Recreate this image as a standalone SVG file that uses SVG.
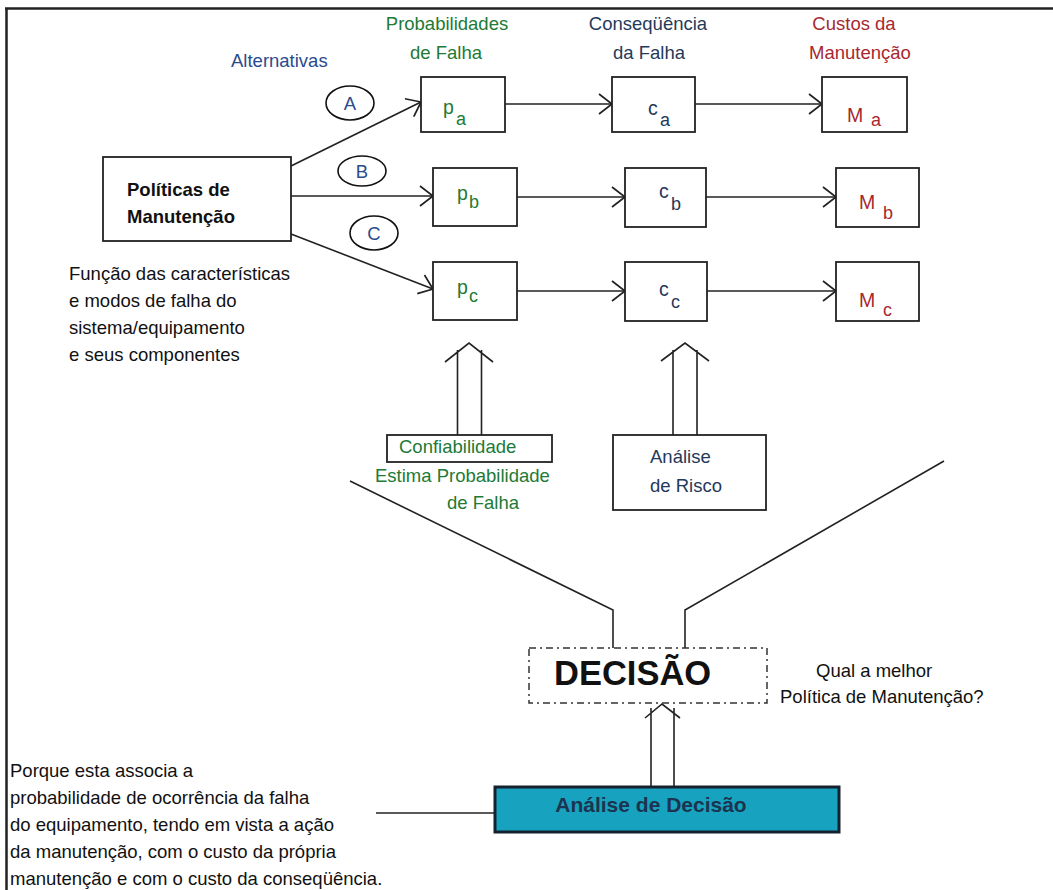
<svg xmlns="http://www.w3.org/2000/svg" width="1053" height="890" viewBox="0 0 1053 890">
<defs>
<style>
text{font-family:"Liberation Sans",Arial,sans-serif;font-size:18.5px}
.box{fill:#fff;stroke:#222;stroke-width:1.8}
.ln{stroke:#222;stroke-width:1.6;fill:none}
.blue{fill:#2a4b8d}
.green{fill:#217a35}
.navy{fill:#25395a}
.red{fill:#a8282e}
.blk{fill:#111}
.sym{font-size:19.5px}
.sub{font-size:18px}
.bold{font-weight:bold}
</style>
<marker id="arr" viewBox="-15 -12 17 24" refX="0" refY="0" markerUnits="userSpaceOnUse" markerWidth="17" markerHeight="24" orient="auto">
<path d="M-13,-10 L0,0 L-13,10" fill="none" stroke="#222" stroke-width="1.7"/>
</marker>
</defs>
<rect width="1053" height="890" fill="#fff"/>
<g id="frame">
<line x1="5" y1="8.5" x2="1053" y2="8.5" stroke="#222" stroke-width="2.5"/>
<line x1="6.5" y1="8" x2="6.5" y2="890" stroke="#222" stroke-width="2.5"/>
</g>
<g id="headers">
<text x="231" y="67" class="blue">Alternativas</text>
<text x="447" y="30" class="green" text-anchor="middle">Probabilidades</text>
<text x="446" y="59" class="green" text-anchor="middle">de Falha</text>
<text x="648" y="30" class="navy" text-anchor="middle">Conseqüência</text>
<text x="649" y="59" class="navy" text-anchor="middle">da Falha</text>
<text x="854" y="30" class="red" text-anchor="middle">Custos da</text>
<text x="860" y="59" class="red" text-anchor="middle">Manutenção</text>
</g>
<g id="connectors">
<line class="ln" x1="291" y1="166" x2="421" y2="102" marker-end="url(#arr)"/>
<line class="ln" x1="291" y1="196" x2="433" y2="196" marker-end="url(#arr)"/>
<line class="ln" x1="291" y1="234" x2="433" y2="289" marker-end="url(#arr)"/>
<line class="ln" x1="505" y1="104" x2="612" y2="104" marker-end="url(#arr)"/>
<line class="ln" x1="695" y1="104" x2="822" y2="104" marker-end="url(#arr)"/>
<line class="ln" x1="517" y1="197" x2="625" y2="197" marker-end="url(#arr)"/>
<line class="ln" x1="706" y1="197" x2="836" y2="197" marker-end="url(#arr)"/>
<line class="ln" x1="517" y1="291" x2="625" y2="291" marker-end="url(#arr)"/>
<line class="ln" x1="707" y1="291" x2="836" y2="291" marker-end="url(#arr)"/>
<path class="ln" d="M457.5,435 V350 M481.5,435 V350 M445,362 L469,343 L493,362"/>
<path class="ln" d="M673,435 V350 M697,435 V350 M661,361 L685,343 L709,361"/>
<path class="ln" d="M651,786 V708 M674,786 V708 M645,718 L662,704 L680,718"/>
<path class="ln" d="M350,481 L613,610 V648"/>
<path class="ln" d="M944,461 L685,610 V648"/>
<line class="ln" x1="376" y1="813" x2="495" y2="813"/>
</g>
<g id="alt-A">
<ellipse cx="350" cy="103" rx="24" ry="17" fill="none" stroke="#111" stroke-width="1.6"/>
<text x="350" y="110" class="blue" text-anchor="middle">A</text>
</g>
<g id="alt-B">
<ellipse cx="362" cy="171" rx="24" ry="15" fill="none" stroke="#111" stroke-width="1.6"/>
<text x="362" y="178" class="blue" text-anchor="middle">B</text>
</g>
<g id="alt-C">
<ellipse cx="374" cy="233" rx="24" ry="17" fill="none" stroke="#111" stroke-width="1.6"/>
<text x="374" y="240" class="blue" text-anchor="middle">C</text>
</g>
<g id="politicas">
<rect class="box" x="103" y="157" width="188" height="84"/>
<text x="127" y="196" class="blk bold">Políticas de</text>
<text x="127" y="223" class="blk bold">Manutenção</text>
</g>
<g id="funcao-note">
<text x="69" y="280" class="blk">Função das características</text>
<text x="69" y="307" class="blk">e modos de falha do</text>
<text x="69" y="334" class="blk">sistema/equipamento</text>
<text x="69" y="361" class="blk">e seus componentes</text>
</g>
<g id="pa">
<rect class="box" x="421" y="77" width="84" height="55"/>
<text x="443" y="114" class="green sym">p</text><text x="456" y="125" class="green sub">a</text>
</g>
<g id="ca">
<rect class="box" x="612" y="77" width="83" height="55"/>
<text x="648" y="115" class="navy sym">c</text><text x="660" y="126" class="navy sub">a</text>
</g>
<g id="Ma">
<rect class="box" x="822" y="77" width="85" height="55"/>
<text x="847" y="122" class="red sym">M</text><text x="871" y="126" class="red sub">a</text>
</g>
<g id="pb">
<rect class="box" x="433" y="168" width="84" height="58"/>
<text x="457" y="200" class="green sym">p</text><text x="469" y="208" class="green sub">b</text>
</g>
<g id="cb">
<rect class="box" x="625" y="168" width="81" height="59"/>
<text x="659" y="198" class="navy sym">c</text><text x="671" y="210" class="navy sub">b</text>
</g>
<g id="Mb">
<rect class="box" x="836" y="168" width="83" height="59"/>
<text x="859" y="209" class="red sym">M</text><text x="883" y="219" class="red sub">b</text>
</g>
<g id="pc">
<rect class="box" x="433" y="262" width="84" height="58"/>
<text x="457" y="294" class="green sym">p</text><text x="469" y="302" class="green sub">c</text>
</g>
<g id="cc">
<rect class="box" x="625" y="262" width="82" height="59"/>
<text x="659" y="296" class="navy sym">c</text><text x="671" y="308" class="navy sub">c</text>
</g>
<g id="Mc">
<rect class="box" x="836" y="262" width="83" height="59"/>
<text x="859" y="307" class="red sym">M</text><text x="883" y="316" class="red sub">c</text>
</g>
<g id="confiabilidade">
<rect class="box" x="387" y="435" width="165" height="27"/>
<text x="399" y="453" class="green">Confiabilidade</text>
<text x="375" y="482" class="green">Estima Probabilidade</text>
<text x="447" y="509" class="green">de Falha</text>
</g>
<g id="analise-risco">
<rect class="box" x="613" y="435" width="153" height="75"/>
<text x="650" y="463" class="navy">Análise</text>
<text x="650" y="492" class="navy">de Risco</text>
</g>
<g id="decisao">
<rect x="529" y="648" width="238" height="55" fill="#fff" stroke="#333" stroke-width="1.5" stroke-dasharray="7 4 2 4"/>
<text x="554" y="685" class="blk bold" style="font-size:34.5px">DECISÃO</text>
</g>
<g id="pergunta">
<text x="816" y="677" class="blk">Qual a melhor</text>
<text x="780" y="703" class="blk">Política de Manutenção?</text>
</g>
<g id="analise-decisao">
<rect x="495" y="787" width="344" height="45" fill="#17a3bf" stroke="#14222f" stroke-width="3"/>
<text x="651" y="812" class="bold" style="font-size:21px;fill:#1c3450" text-anchor="middle">Análise de Decisão</text>
</g>
<g id="porque-note">
<text x="10" y="777" class="blk">Porque esta associa a</text>
<text x="10" y="804" class="blk">probabilidade de ocorrência da falha</text>
<text x="10" y="831" class="blk">do equipamento, tendo em vista a ação</text>
<text x="10" y="858" class="blk">da manutenção, com o custo da própria</text>
<text x="10" y="885" class="blk">manutenção e com o custo da conseqüência.</text>
</g>
</svg>
